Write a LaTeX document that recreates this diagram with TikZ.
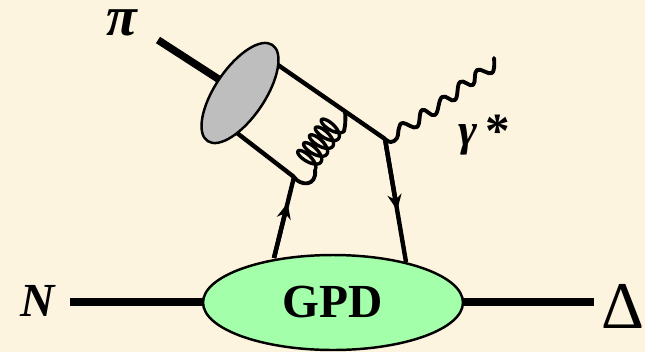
\documentclass[tikz,border=0pt]{standalone}
\usepackage{fontspec}
\setmainfont{Liberation Serif}
\usetikzlibrary{arrows.meta,positioning,shapes.geometric,calc}
\definecolor{paper}{HTML}{FCF4DF}
\definecolor{blobgreen}{HTML}{A3FFA9}
\definecolor{blobgray}{HTML}{BEBEBE}
\begin{document}
\begin{tikzpicture}[x=0.02cm,y=-0.02cm,
  hadron/.style={line width=4.3pt},
  quark/.style={line width=2.5pt},
  boson/.style={line width=2.2pt, line cap=round, line join=round},
  label/.style={inner sep=0pt, font=\fontsize{27}{27}\selectfont\bfseries\itshape},
  flow/.style={-{Stealth[length=9pt,width=8pt]}}]
  \fill[paper] (0,0) rectangle (645,352);
  \useasboundingbox (0,0) rectangle (645,352);
  \coordinate (piin) at (158,40);
  \coordinate (ninl) at (70,302);
  \coordinate (delout) at (594,302);
  \coordinate (vtop) at (385,139);
  \coordinate (vbot) at (294,177);
  \coordinate (gtop) at (345,112);
  \coordinate (coila) at (315,170);
  \coordinate (coilb) at (344,131);
  \draw[hadron] (piin) -- (240,93);
  \draw[hadron] (ninl) -- (333,302) -- (delout);
  \node[ellipse, draw, fill=blobgray, line width=1.4pt, minimum width=2.32cm, minimum height=1cm, rotate=56] (pion) at (240,93) {};
  \node[ellipse, draw, fill=blobgreen, line width=1.4pt, minimum width=5.2cm, minimum height=1.9cm] (gpd) at (333,302.5) {};
  \node[font=\fontsize{27}{27}\selectfont\bfseries, inner sep=0pt] at (gpd) {GPD};
  \draw[quark] (278,65) -- (vtop);
  \draw[quark] (237,133) -- (vbot);
  % quark legs into the blob
  \coordinate (gl) at (274,258);
  \coordinate (gr) at (406,262);
  \draw[quark,flow] (gl) -- ($(gl)!0.68!(vbot)$);
  \draw[quark] (gl) -- (vbot);
  \draw[quark,flow] (vtop) -- ($(vtop)!0.58!(gr)$);
  \draw[quark] (vtop) -- (gr);
  % gluon
  \draw[boson] (vbot) .. controls (300,186) and (317,187) .. (coila);
  \draw[boson, line width=1.9pt] plot[smooth, domain=0:1800, samples=181, variable=\t]
    ({305+0.8*12.5*cos(\t)+0.6*(\t/360*9.8+5.5*sin(\t))},{162.5+0.6*12.5*cos(\t)-0.8*(\t/360*9.8+5.5*sin(\t))});
  \draw[boson] (coilb) .. controls (345,127) and (346,120) .. (gtop);
  % photon
  \draw[boson] plot[smooth, tension=0.7] coordinates {(vtop) (391,142) (397,138) (399,128) (403,123)
    (417,127) (422,110) (435,115) (442,97) (455,100) (460,82) (473,85) (477,70) (492,73) (494,58)};
  \node[label, font=\fontsize{32}{32}\selectfont\bfseries\itshape] (lpi) at (122,23) {π};
  \node[label] (ln) at (38,301) {N};
  \node[inner sep=0pt, font=\fontsize{38}{38}\selectfont] (ldelta) at (623,306) {Δ};
  \node[inner sep=0pt, font=\fontsize{26}{26}\selectfont\itshape\bfseries] (lgamma) at (468,140) {γ};
  \node[inner sep=0pt, font=\fontsize{28}{28}\selectfont\bfseries] (lstar) at (498,131) {*};
\end{tikzpicture}
\end{document}
